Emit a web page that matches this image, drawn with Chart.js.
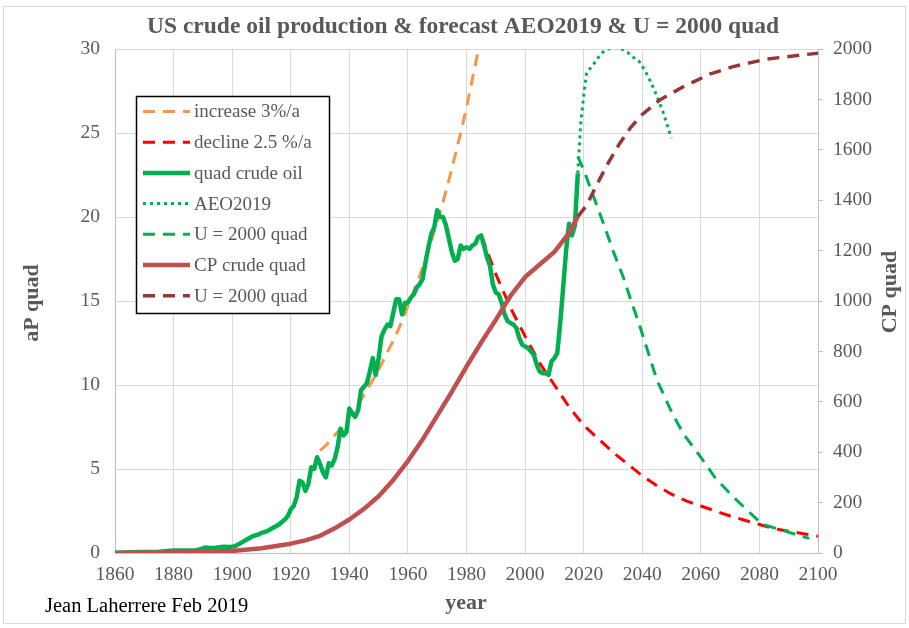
<!DOCTYPE html>
<html>
<head>
<meta charset="utf-8">
<script src="https://cdn.jsdelivr.net/npm/chart.js@4/dist/chart.umd.min.js"></script>
<style>
html,body{margin:0;padding:0;background:#fff;}
#wrap{width:909px;height:628px;position:relative;}
</style>
</head>
<body>
<div id="wrap"><canvas id="c" width="909" height="628"></canvas></div>
<script>
// ---- Data ----
const xTickYears = [1860,1880,1900,1920,1940,1960,1980,2000,2020,2040,2060,2080,2100];

// quad crude oil (aP, left axis)
const prodYears = [1860,1865,1870,1875,1880,1885,1888,1890,1891,1892,1894,1895,1897,1899,1900,1901,1903,1905,1907,1909,1910,1912,1914,1916,1918,1919,1920,1921,1922,1923,1924,1925,1926,1927,1928,1929,1930,1931,1932,1933,1934,1935,1936,1937,1938,1939,1940,1941,1942,1943,1944,1945,1946,1947,1948,1949,1950,1951,1952,1953,1954,1955,1956,1957,1958,1959,1960,1961,1962,1963,1964,1965,1966,1967,1968,1969,1970,1971,1972,1973,1974,1975,1976,1977,1978,1979,1980,1981,1982,1983,1984,1985,1986,1987,1988,1989,1990,1991,1992,1993,1994,1995,1996,1997,1998,1999,2000,2001,2002,2003,2004,2005,2006,2007,2008,2009,2010,2011,2012,2013,2014,2015,2016,2017,2018];
const prodQuad = [0.02,0.05,0.06,0.08,0.15,0.15,0.17,0.28,0.33,0.3,0.3,0.33,0.37,0.35,0.38,0.4,0.6,0.8,1.0,1.1,1.2,1.3,1.5,1.7,2.0,2.2,2.6,2.8,3.3,4.3,4.2,3.7,4.1,5.1,5.0,5.7,5.3,4.8,4.5,5.35,5.2,5.6,6.3,7.4,7.0,7.2,8.6,8.3,8.1,8.5,9.7,9.9,10.1,10.8,11.6,10.6,11.6,12.9,13.3,13.6,13.5,14.3,15.1,15.1,14.2,14.9,14.9,15.2,15.4,15.8,16.0,16.3,17.3,18.2,19.0,19.4,20.4,20.0,20.0,19.5,18.7,17.9,17.4,17.5,18.3,18.1,18.2,18.1,18.3,18.4,18.8,18.9,18.3,17.6,17.1,16.0,15.5,15.4,14.9,14.2,13.8,13.7,13.6,13.4,12.8,12.4,12.3,12.2,12.0,11.8,11.2,10.8,10.7,10.7,10.6,11.4,11.6,11.9,13.7,15.8,18.0,19.6,18.9,19.5,22.6];

// increase 3%/a (left axis)
const incYears = [1930,1932,1934,1936,1938,1940,1942,1944,1946,1948,1950,1952,1954,1956,1958,1960,1962,1964,1966,1968,1970,1972,1974,1976,1978,1980,1982,1984,1985];
const incQuad  = [6.1,6.4,6.8,7.2,7.6,8.1,8.6,9.1,9.7,10.3,10.9,11.6,12.3,13.0,13.8,14.7,15.6,16.5,17.5,18.6,19.7,20.9,22.2,23.6,25.0,26.5,28.2,29.9,30.8];

// decline 2.5 %/a (left axis)
const decYears = [1985,1990,1995,2000,2005,2010,2015,2020,2025,2030,2035,2040,2045,2050,2055,2060,2065,2070,2075,2080,2085,2090,2095,2100];
const decQuad  = [18.9,16.6,14.6,12.9,11.3,10.0,8.7,7.6,6.8,6.0,5.3,4.6,4.0,3.5,3.1,2.8,2.5,2.2,1.95,1.7,1.45,1.3,1.15,1.0];

// AEO2019 forecast (left axis)
const aeoYears = [2018,2019,2020,2021,2023,2025,2027,2029,2031,2033,2035,2037,2039,2041,2043,2045,2047,2049,2050];
const aeoQuad  = [22.6,25.6,27.2,28.6,29.0,29.5,29.9,30.05,30.1,30.0,29.8,29.5,29.25,28.7,28.0,27.2,26.3,25.2,24.7];

// U = 2000 quad production model (left axis)
const uProdYears = [2018,2020,2023,2027,2030,2034,2036,2039,2041,2045,2050,2054,2060,2065,2071,2077,2081,2088,2093,2097];
const uProdQuad  = [23.6,22.8,21.4,19.5,18.0,16.2,15.1,13.6,12.5,10.3,8.4,7.1,5.7,4.45,3.35,2.35,1.7,1.35,1.07,0.87];

// CP crude quad (cumulative, right axis)
const cpYears = [1860,1880,1900,1910,1920,1925,1930,1935,1940,1945,1950,1955,1960,1965,1970,1975,1980,1985,1990,1995,2000,2005,2010,2013,2015,2018];
const cpQuad  = [0,2,8,19,37,50,68,98,133,175,225,290,365,450,545,640,740,835,925,1020,1095,1145,1195,1240,1270,1335];

// U = 2000 quad cumulative model (right axis)
const uCumYears = [2018,2021,2024,2028,2032,2036,2040,2046,2054,2063,2071,2082,2094,2100];
const uCumQuad  = [1335,1380,1450,1540,1620,1688,1740,1798,1850,1900,1930,1959,1976,1983];

// ---- Build chart ----
const pts = (xs, ys) => xs.map((x, i) => ({x: x, y: ys[i]}));
const SERIF = '"Liberation Serif", "Times New Roman", serif';
const GRAY = '#595959';

const datasets = [
  {label:'increase 3%/a', data: pts(incYears, incQuad), borderColor:'#f79646', borderWidth:3, borderDash:[12,8], yAxisID:'y', order:7},
  {label:'decline 2.5 %/a', data: pts(decYears, decQuad), borderColor:'#ff0000', borderWidth:3, borderDash:[12,8], yAxisID:'y', order:6},
  {label:'quad crude oil', data: pts(prodYears, prodQuad), borderColor:'#00b050', borderWidth:4.5, yAxisID:'y', order:5},
  {label:'AEO2019', data: pts(aeoYears, aeoQuad), borderColor:'#00b050', borderWidth:3, borderDash:[3,4], yAxisID:'y', order:4},
  {label:'U = 2000 quad', data: pts(uProdYears, uProdQuad), borderColor:'#00b050', borderWidth:3, borderDash:[12,8], yAxisID:'y', order:3},
  {label:'CP crude quad', data: pts(cpYears, cpQuad), borderColor:'#c0504d', borderWidth:4.5, yAxisID:'y2', order:2},
  {label:'U = 2000 quad', data: pts(uCumYears, uCumQuad), borderColor:'#953735', borderWidth:3.5, borderDash:[12,8], yAxisID:'y2', order:1}
];
datasets.forEach(d => { d.pointRadius = 0; d.fill = false; d.tension = 0; d.borderJoinStyle = 'round'; });

const decor = {
  id: 'decor',
  beforeDraw(chart) {
    const ctx = chart.ctx;
    ctx.save();
    ctx.fillStyle = '#fff';
    ctx.fillRect(0, 0, chart.width, chart.height);
    ctx.strokeStyle = '#d9d9d9';
    ctx.lineWidth = 1;
    ctx.strokeRect(3.5, 6.5, 902, 617);
    ctx.restore();
  },
  afterDraw(chart) {
    const ctx = chart.ctx;
    ctx.save();
    // title
    ctx.fillStyle = GRAY;
    ctx.textAlign = 'center';
    ctx.textBaseline = 'middle';
    ctx.font = 'bold 23.5px ' + SERIF;
    ctx.fillText('US crude oil production & forecast AEO2019 & U = 2000 quad', 463, 27);
    ctx.font = 'bold 22px ' + SERIF;
    // x title
    ctx.fillText('year', 466, 603);
    // left title
    ctx.save();
    ctx.translate(32, 303);
    ctx.rotate(-Math.PI / 2);
    ctx.fillText('aP quad', 0, 0);
    ctx.restore();
    // right title
    ctx.save();
    ctx.translate(890, 292);
    ctx.rotate(-Math.PI / 2);
    ctx.fillText('CP quad', 0, 0);
    ctx.restore();
    // footer
    ctx.fillStyle = '#000';
    ctx.textAlign = 'left';
    ctx.font = '20.5px ' + SERIF;
    ctx.fillText('Jean Laherrere Feb 2019', 45, 607);

    // legend
    const bx = 136, by = 96, bw = 193, bh = 217;
    ctx.fillStyle = '#fff';
    ctx.fillRect(bx, by, bw, bh);
    ctx.strokeStyle = '#000';
    ctx.lineWidth = 1.5;
    ctx.strokeRect(bx + 0.5, by + 0.5, bw, bh);
    ctx.font = '19px ' + SERIF;
    ctx.textBaseline = 'middle';
    chart.data.datasets.forEach((ds, i) => {
      const y = 111.5 + i * 30.7;
      ctx.save();
      ctx.strokeStyle = ds.borderColor;
      ctx.lineWidth = ds.borderWidth;
      ctx.setLineDash(ds.borderDash || []);
      ctx.beginPath();
      ctx.moveTo(143, y);
      ctx.lineTo(190, y);
      ctx.stroke();
      ctx.restore();
      ctx.fillStyle = GRAY;
      ctx.fillText(ds.label, 194, y + 1);
    });
    ctx.restore();
  }
};

new Chart(document.getElementById('c'), {
  type: 'line',
  data: { datasets: datasets },
  options: {
    responsive: false,
    animation: false,
    devicePixelRatio: 1,
    layout: { padding: { top: 49, left: 0, right: 0, bottom: 0 } },
    plugins: { legend: { display: false }, title: { display: false }, tooltip: { enabled: false } },
    scales: {
      x: {
        type: 'linear', min: 1860, max: 2100,
        afterFit(s) { s.height = 75; },
        afterBuildTicks(s) { s.ticks = xTickYears.map(v => ({value: v})); },
        grid: { color: '#d9d9d9', lineWidth: 1, drawTicks: false },
        border: { display: true, color: '#bfbfbf', width: 1 },
        ticks: { color: GRAY, font: { family: SERIF, size: 19.5 }, padding: 10, maxRotation: 0, autoSkip: false, callback: v => String(v) }
      },
      y: {
        type: 'linear', position: 'left', min: 0, max: 30,
        afterFit(s) { s.width = 115; },
        grid: { color: '#d9d9d9', lineWidth: 1, drawTicks: false },
        border: { display: true, color: '#bfbfbf', width: 1 },
        ticks: { stepSize: 5, color: GRAY, font: { family: SERIF, size: 19.5 }, padding: 15, callback: v => String(v) }
      },
      y2: {
        type: 'linear', position: 'right', min: 0, max: 2000,
        afterFit(s) { s.width = 91; },
        grid: { drawOnChartArea: false, drawTicks: true, tickLength: 5, color: '#bfbfbf' },
        border: { display: true, color: '#bfbfbf', width: 1 },
        ticks: { stepSize: 200, color: GRAY, font: { family: SERIF, size: 19.5 }, padding: 10, callback: v => String(v) }
      }
    }
  },
  plugins: [decor]
});
</script>
</body>
</html>
